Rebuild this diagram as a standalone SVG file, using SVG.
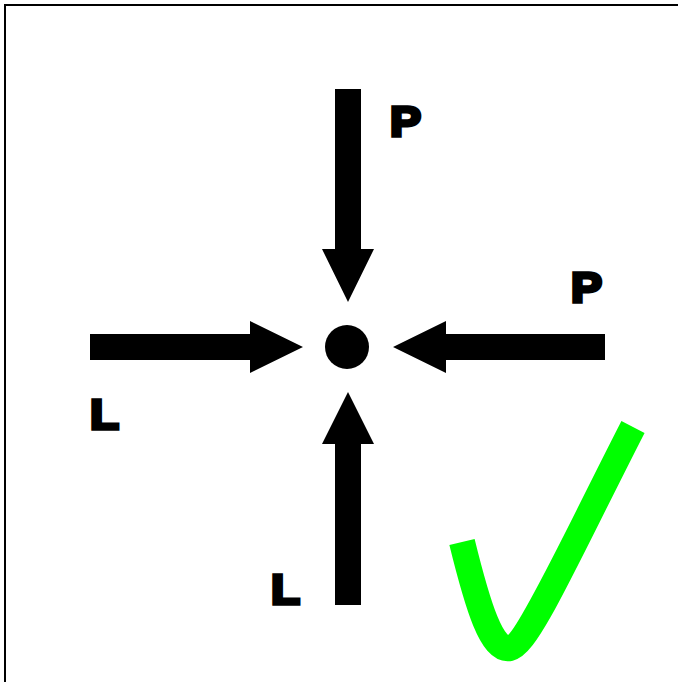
<svg xmlns="http://www.w3.org/2000/svg" width="678" height="682" viewBox="0 0 678 682">
  <style>
    .arrow { fill: #000; stroke: none; }
    .lbl { font-family: "Liberation Sans", Arial, sans-serif; font-weight: bold; font-size: 43px; fill: #000; stroke: #000; stroke-width: 3.5; stroke-linejoin: miter; }
  </style>
  <rect x="0" y="0" width="678" height="682" fill="#fff"/>
  <rect id="frame" x="5" y="5" width="700" height="700" fill="none" stroke="#000" stroke-width="2"/>
  <g id="connectors">
    <polygon class="arrow" points="335,89 361,89 361,249 374,249 348,302 322,249 335,249"/>
    <polygon class="arrow" points="90,334 250,334 250,321 303,347 250,373 250,360 90,360"/>
    <polygon class="arrow" points="605,334 446,334 446,321 393,347 446,373 446,360 605,360"/>
    <polygon class="arrow" points="335,605 361,605 361,444 374,444 348,392 322,444 335,444"/>
  </g>
  <g id="point">
    <circle cx="347" cy="347" r="22" fill="#000"/>
  </g>
  <g id="label-p-top"><text class="lbl" x="390" y="136" textLength="31" lengthAdjust="spacingAndGlyphs">P</text></g>
  <g id="label-p-right"><text class="lbl" x="571" y="302" textLength="31" lengthAdjust="spacingAndGlyphs">P</text></g>
  <g id="label-l-left"><text class="lbl" x="90" y="429" textLength="29" lengthAdjust="spacingAndGlyphs">L</text></g>
  <g id="label-l-bottom"><text class="lbl" x="271" y="604" textLength="29" lengthAdjust="spacingAndGlyphs">L</text></g>
  <g id="checkmark">
    <path d="M 462 542 C 478 607, 492 652, 510 648 C 528 644, 565 560, 633 427" fill="none" stroke="#00ff00" stroke-width="26" stroke-linecap="butt"/>
  </g>
</svg>
